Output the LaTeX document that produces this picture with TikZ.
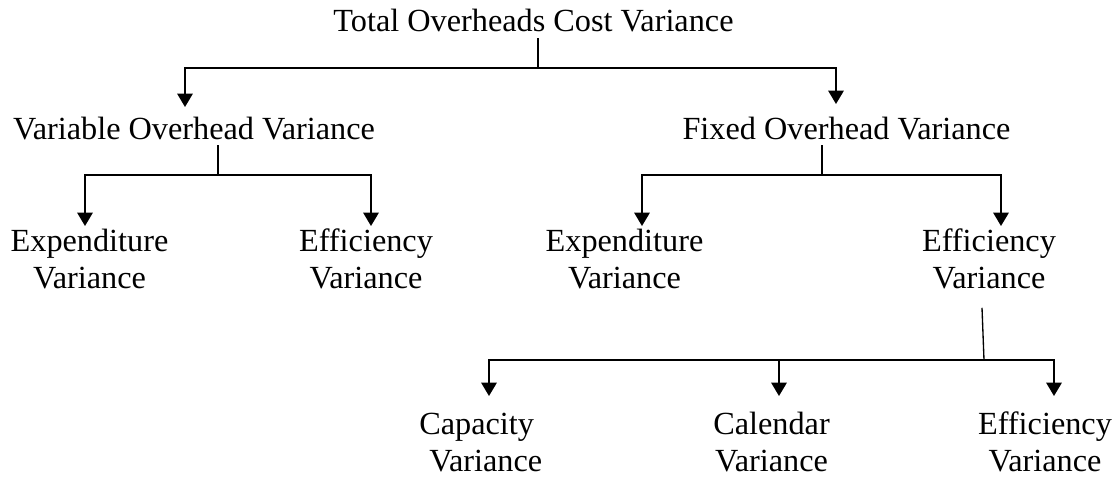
\documentclass[tikz,border=0pt]{standalone}
\usepackage{fontspec}
\setmainfont{Liberation Serif}
\usetikzlibrary{arrows.meta, calc}

\begin{document}
\begin{tikzpicture}[
    x=0.75pt, y=-0.75pt,
    term/.style={
      inner sep=0pt,
      anchor=base,
      align=center,
      font=\fontsize{24.2}{27.4}\selectfont
    },
    stem/.style={line width=1pt},
    arrow/.style={-{Triangle[length=10pt, width=11.5pt]}, line width=1.5pt}
  ]
    \useasboundingbox (0,0) rectangle (1118,476);

    \node[term] (total) at (533.5,31) {Total Overheads Cost Variance};

    \node[term] (var) at (194,139) {Variable Overhead Variance};
    \node[term] (fixed) at (846.5,139) {Fixed Overhead Variance};

    \node[term] (varexp) at (89.5,288) {Expenditure\\Variance};
    \node[term] (vareff) at (366,288) {Efficiency\\Variance};
    \node[term] (fixexp) at (624.5,288) {Expenditure\\Variance};
    \node[term] (fixeff) at (989,288) {Efficiency\\Variance};

    \node[term, anchor=base west, align=left] (capacity) at (419,471) {Capacity\\\hspace{7.5pt}Variance};
    \node[term] (calendar) at (771.5,471) {Calendar\\Variance};
    \node[term] (effvar) at (1045,471) {Efficiency\\Variance};

    % junctions on the bars
    \coordinate (j0) at (538,68);
    \coordinate (j1) at (218,175);
    \coordinate (j2) at (822,175);
    \coordinate (j3) at (984,360);

    \draw[stem] ($(total.base -| j0)+(0,7)$) -- (j0);
    \draw[arrow] (j0) -| ($(var.base)+(-9,-32)$);
    \draw[arrow] (j0) -| ($(fixed.base)+(-10.5,-35)$);

    \draw[stem] ($(var.base -| j1)+(0,6)$) -- (j1);
    \draw[arrow] (j1) -| ($(varexp.base)+(-4.5,-62)$);
    \draw[arrow] (j1) -| ($(vareff.base)+(5,-62)$);

    \draw[stem] ($(fixed.base -| j2)+(0,6)$) -- (j2);
    \draw[arrow] (j2) -| ($(fixexp.base)+(17.5,-62)$);
    \draw[arrow] (j2) -| ($(fixeff.base)+(12,-62)$);

    \draw[stem] ($(fixeff.south)+(-7,19)$) -- (j3);
    \draw[arrow] (j3) -| ($(capacity.base west)+(70,-75)$);
    \draw[arrow] (j3) -| ($(calendar.base)+(7.5,-75)$);
    \draw[arrow] (j3) -| ($(effvar.base)+(9,-75)$);
  \end{tikzpicture}
\end{document}
